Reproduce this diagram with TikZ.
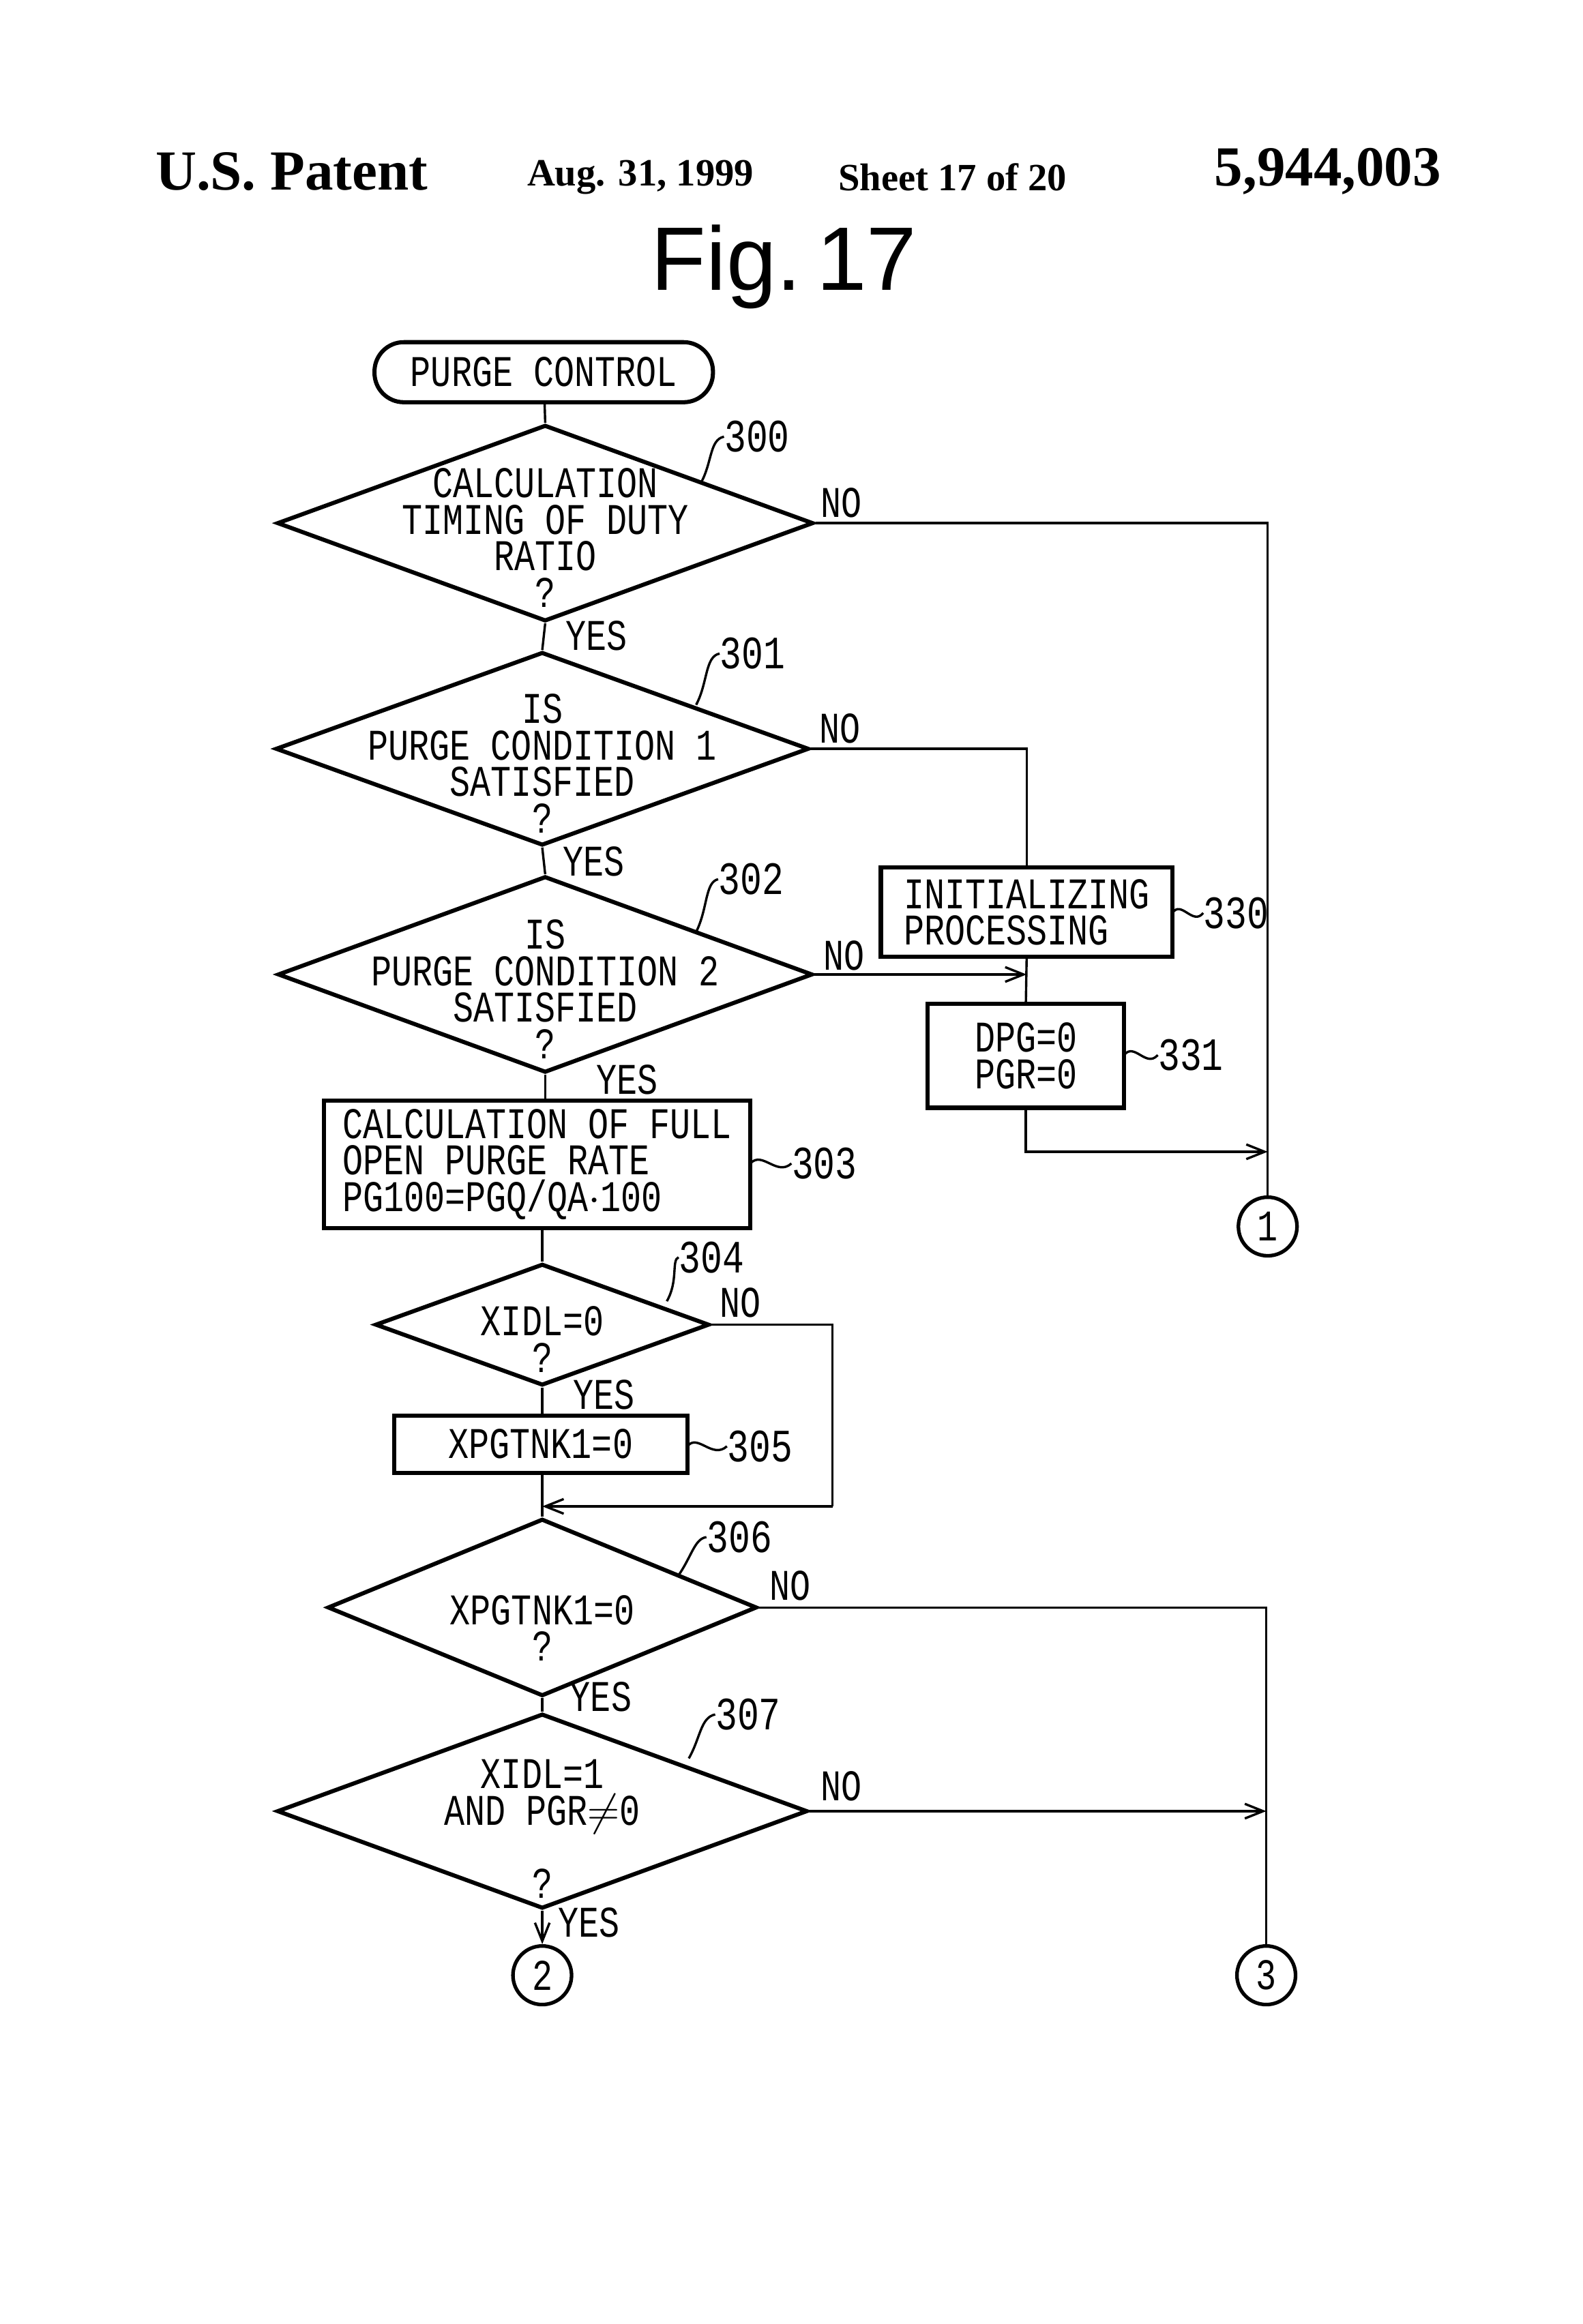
\documentclass[tikz,border=0pt]{standalone}
\usepackage{fontspec}
\setmainfont{Liberation Mono}[FakeStretch=0.78]
\newfontfamily\hdfont{Liberation Serif}
\newfontfamily\figfont{Liberation Sans}
\usetikzlibrary{shapes.geometric,arrows.meta}

\tikzset{
  box/.style={draw,line width=1.6pt,rectangle,inner sep=0pt},
  dia/.style={draw,line width=1.6pt,diamond,inner sep=0pt},
  txt/.style={align=center,inner sep=0pt,font=\fontsize{17}{14.2}\selectfont},
  yn/.style={inner sep=0pt,font=\fontsize{17}{20}\selectfont},
  num/.style={inner sep=0pt,anchor=west,font=\fontsize{18}{20}\selectfont},
  conn/.style={circle,draw,line width=1.4pt,minimum size=0.8cm,inner sep=0pt},
  flow/.style={line width=0.9pt},
  >={Straight Barb[length=2.5mm,width=2mm]}
}

\begin{document}
\begin{tikzpicture}[x=0.02cm,y=-0.02cm]
 \useasboundingbox (0,0) rectangle (1080,1586);
 % header
 \node[font=\hdfont\bfseries\fontsize{22}{24}\selectfont] (hd1) at (199,117) {U.S. Patent};
 \node[font=\hdfont\bfseries\fontsize{15}{17}\selectfont] (hd2) at (437,121) {Aug. 31, 1999};
 \node[font=\hdfont\bfseries\fontsize{15}{17}\selectfont] (hd3) at (650,121) {Sheet 17 of 20};
 \node[font=\hdfont\bfseries\fontsize{22}{24}\selectfont] (hd4) at (906,117) {5,944,003};
 \node[font=\figfont\fontsize{35}{38}\selectfont] (fig) at (535,182) {Fig.\,17};

 % steps
 \node[box,rounded corners=0.4cm,minimum width=4.62cm,minimum height=0.82cm] (start) at (371,254) {};
 \node[txt] at (start) {PURGE CONTROL};
 \node[dia,minimum width=7.32cm,minimum height=2.68cm] (d300) at (372,357) {};
 \node[txt] at (372,367) {CALCULATION\\TIMING OF DUTY\\RATIO\\?};
 \node[dia,minimum width=7.28cm,minimum height=2.64cm] (d301) at (370,511) {};
 \node[txt] at (370,521) {IS\\PURGE CONDITION 1\\SATISFIED\\?};
 \node[dia,minimum width=7.3cm,minimum height=2.68cm] (d302) at (372,665) {};
 \node[txt] at (372,675) {IS\\PURGE CONDITION 2\\SATISFIED\\?};
 \node[box,minimum width=3.98cm,minimum height=1.22cm] (b330) at (700.5,622.5) {};
 \node[txt,align=left] at (b330) {INITIALIZING\\PROCESSING};
 \node[box,minimum width=2.68cm,minimum height=1.42cm] (b331) at (700,720.5) {};
 \node[txt] at (b331) {DPG=0\\PGR=0};
 \node[box,minimum width=5.82cm,minimum height=1.74cm] (b303) at (366.5,794.5) {};
 \node[txt,align=left] at (b303) {CALCULATION OF FULL\\OPEN PURGE RATE\\PG100=PGQ/QA$\cdot$100};
 \node[dia,minimum width=4.56cm,minimum height=1.66cm] (d304) at (370,904) {};
 \node[txt] at (370,914) {XIDL=0\\?};
 \node[box,minimum width=4cm,minimum height=0.78cm] (b305) at (369,985.5) {};
 \node[txt] at (b305) {XPGTNK1=0};
 \node[dia,minimum width=5.86cm,minimum height=2.42cm] (d306) at (370,1097) {};
 \node[txt] at (370,1111) {XPGTNK1=0\\?};
 \node[dia,minimum width=7.24cm,minimum height=2.66cm] (d307) at (370,1236) {};
 \node[txt] at (370,1248) {XIDL=1\\AND PGR$\neq$0\\\\?};
 \node[conn] (c1) at (865,837) {\fontsize{17}{20}\selectfont 1};
 \node[conn] (c2) at (370,1348) {\fontsize{17}{20}\selectfont 2};
 \node[conn] (c3) at (864,1348) {\fontsize{17}{20}\selectfont 3};

 % connectors
 \draw[flow] (start) -- (d300.north);
 \draw[flow] (d300.south) -- (d301.north);
 \draw[flow] (d301.south) -- (d302.north);
 \draw[flow] (d302.south) -- (b303.north -| d302.south);
 \draw[flow] (b303.south -| d304.north) -- (d304.north);
 \draw[flow] (d304.south) -- (b305.north -| d304.south);
 \draw[flow] (b305.south -| d306.north) -- (d306.north);
 \draw[flow] (d306.south) -- (d307.north);
 \draw[flow,->] (d307.south) -- (c2);
 \draw[flow] (d300.east) -| (c1.north);
 \draw[flow] (d301.east) -| (b330.north);
 \draw[flow,->] (d302.east) -- (b330.south |- d302.east);
 \draw[flow] (b330.south) -- (b331.north);
 \coordinate (j1) at (865,786);
 \draw[flow,->] (b331.south) |- (j1);
 \coordinate (j2) at (568,1028);
 \coordinate (j3) at (370,1028);
 \draw[flow] (d304.east) -| (j2);
 \draw[flow,->] (j2) -- (j3);
 \draw[flow] (d306.east) -| (c3.north);
 \draw[flow,->] (d307.east) -- (c3.north |- d307.east);

 % yes / no
 \node[yn] at (407,434) {YES};
 \node[yn] at (405,588) {YES};
 \node[yn] at (428,737) {YES};
 \node[yn] at (412,952) {YES};
 \node[yn] at (410,1158) {YES};
 \node[yn] at (402,1312) {YES};
 \node[yn] at (574,343) {NO};
 \node[yn] at (573,497) {NO};
 \node[yn] at (576,652) {NO};
 \node[yn] at (505,889) {NO};
 \node[yn] at (539,1082) {NO};
 \node[yn] at (574,1219) {NO};

 % reference numbers
 \draw[flow] (478,330) .. controls (486,316) and (484,300) .. (494,298);
 \node[num] at (494,298) {300};
 \draw[flow] (475,481) .. controls (483,466) and (481,448) .. (491,446);
 \node[num] at (491,446) {301};
 \draw[flow] (475,636) .. controls (483,620) and (481,602) .. (490,600);
 \node[num] at (490,600) {302};
 \draw[flow] (455,888) .. controls (463,874) and (458,860) .. (463,858);
 \node[num] at (463,858) {304};
 \draw[flow] (463,1075) .. controls (472,1062) and (474,1050) .. (482,1049);
 \node[num] at (482,1049) {306};
 \draw[flow] (470,1200) .. controls (478,1186) and (478,1172) .. (488,1170);
 \node[num] at (488,1170) {307};
 \draw[flow] (800,623) .. controls (806,614) and (814,632) .. (821,623);
 \node[num] at (821,623) {330};
 \draw[flow] (767,720) .. controls (774,711) and (782,729) .. (790,720);
 \node[num] at (790,720) {331};
 \draw[flow] (512,794) .. controls (520,785) and (530,803) .. (540,794);
 \node[num] at (540,794) {303};
 \draw[flow] (469,987) .. controls (476,978) and (486,996) .. (496,987);
 \node[num] at (496,987) {305};
\end{tikzpicture}
\end{document}
